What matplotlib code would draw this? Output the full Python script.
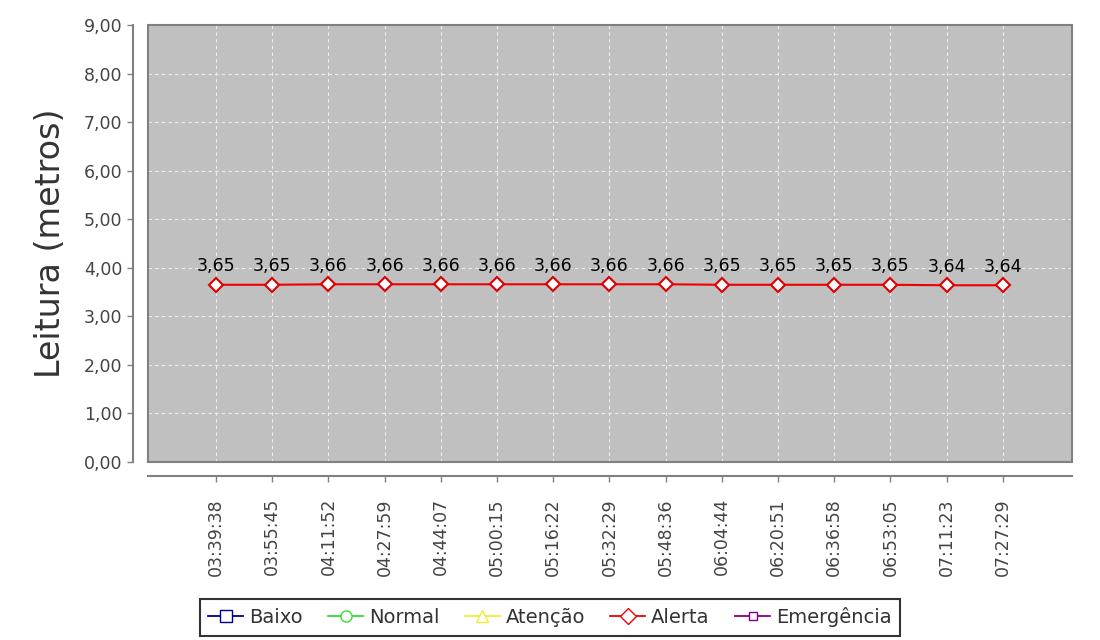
import matplotlib
matplotlib.use("Agg")
import matplotlib.pyplot as plt
from matplotlib.lines import Line2D
from matplotlib.patches import Rectangle
from matplotlib.ticker import FuncFormatter, MultipleLocator

times = ["03:39:38", "03:55:45", "04:11:52", "04:27:59", "04:44:07", "05:00:15",
         "05:16:22", "05:32:29", "05:48:36", "06:04:44", "06:20:51", "06:36:58",
         "06:53:05", "07:11:23", "07:27:29"]
values = [3.65, 3.65, 3.66, 3.66, 3.66, 3.66, 3.66, 3.66, 3.66, 3.65, 3.65, 3.65,
          3.65, 3.64, 3.64]
legend_names = ["Baixo", "Normal", "Atenção", "Alerta", "Emergência"]
legend_colors = ["#00008b", "#33dd33", "#eeee33", "#ee0000", "#800080"]
legend_markers = ["s", "o", "^", "D", "s"]

plt.rcParams['font.family'] = ['DejaVu Sans']

fig = plt.figure(figsize=(11, 6.4), dpi=100)
ax = fig.add_axes([148/1100, 1-462/640, (1072-148)/1100, (462-25)/640])
ax.set_facecolor("#c0c0c0")

x = list(range(len(times)))
ax.plot(x, values, color="#ee0000", lw=1.5, marker="D", ms=7,
        mfc="white", mec="#dd0000", mew=1.5, zorder=3)
for xi, v in zip(x, values):
    ax.annotate(f"{v:.2f}".replace(".", ","), (xi, v), xytext=(0, 7),
                textcoords="offset points", ha="center", va="bottom",
                fontsize=12.5, color="black")

ax.set_xlim(-1.21, len(times) - 1 + 1.23)
ax.set_ylim(0, 9)
ax.yaxis.set_major_locator(MultipleLocator(1))
ax.yaxis.set_major_formatter(FuncFormatter(lambda v, p: f"{v:.2f}".replace(".", ",")))
ax.set_xticks(x)
ax.set_xticklabels(times)

ax.grid(True, color="#eeeeee", ls=(0, (3, 3)), lw=0.8)
ax.set_axisbelow(True)

for s in ["top", "right"]:
    ax.spines[s].set_visible(False)
ax.spines["left"].set_position(("outward", 11))
ax.spines["bottom"].set_position(("outward", 10))
for s in ["left", "bottom"]:
    ax.spines[s].set_color("#808080")
    ax.spines[s].set_linewidth(1.5)
ax.add_patch(Rectangle((0, 0), 1, 1, transform=ax.transAxes, fill=False,
                       edgecolor="#808080", lw=1.5, clip_on=False, zorder=4))

ax.tick_params(axis="both", colors="#808080", labelcolor="#444444",
               labelsize=12.5, length=4, width=1)
ax.tick_params(axis="x", pad=12, labelrotation=90)
ax.set_ylabel("Leitura (metros)", fontsize=24, color="#333333", labelpad=12)

handles = [Line2D([0], [0], color=c, marker=m, mfc="white", mec=c, ms=8 if n != "Emergência" else 6,
                  lw=1.3) for c, m, n in zip(legend_colors, legend_markers, legend_names)]
leg = fig.legend(handles, legend_names, loc="lower center", bbox_to_anchor=(550/1100, 4/640),
                 ncol=5, fontsize=14, frameon=True, fancybox=False, handlelength=1.8,
                 handletextpad=0.3, columnspacing=1.3, borderpad=0.45, borderaxespad=0)
leg.get_frame().set_edgecolor("black")
leg.get_frame().set_linewidth(1.5)
for t in leg.get_texts():
    t.set_color("#333333")

fig.savefig("out.png", dpi=100)
